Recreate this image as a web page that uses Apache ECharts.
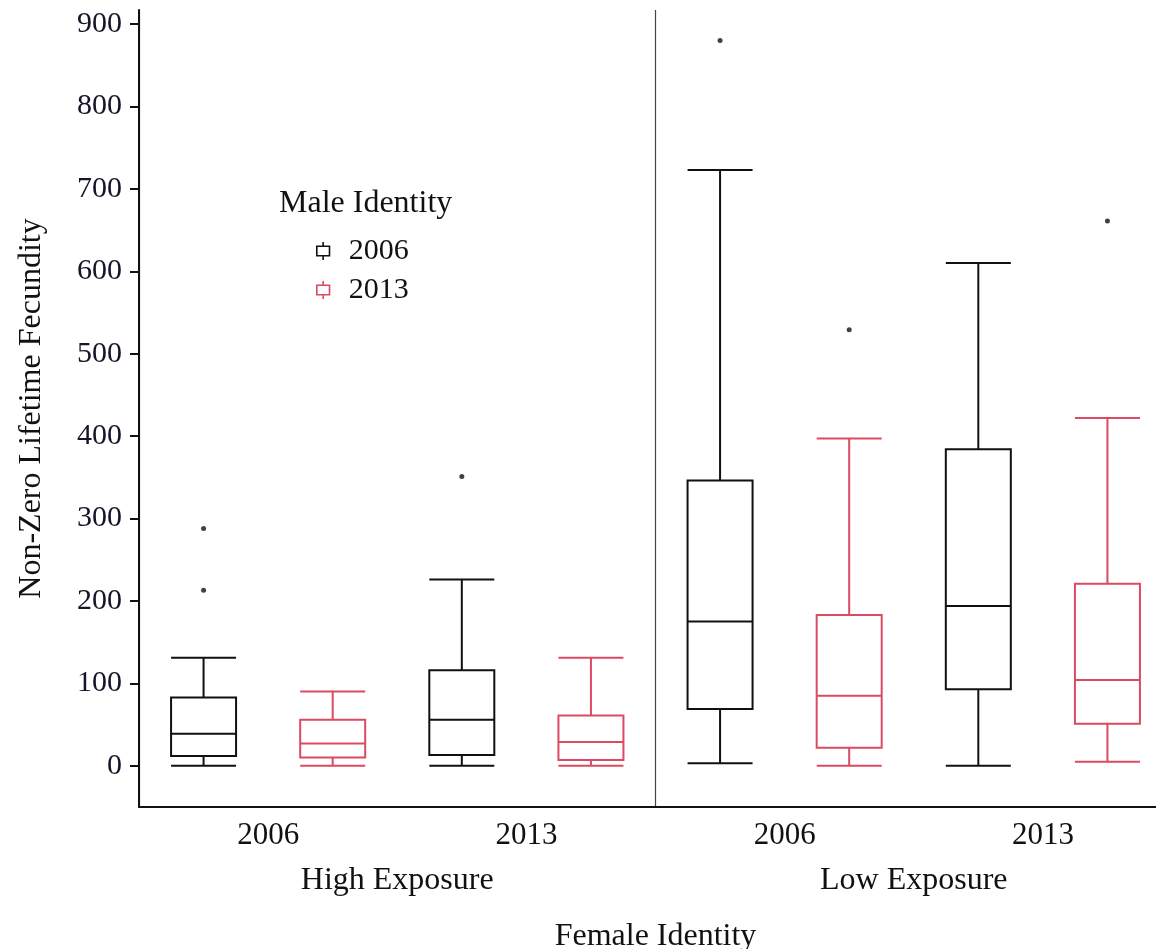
<!DOCTYPE html>
<html>
<head>
<meta charset="utf-8">
<title>Non-Zero Lifetime Fecundity</title>
<script src="https://cdn.jsdelivr.net/npm/echarts@6/dist/echarts.min.js"></script>
<style>
  html, body { margin: 0; padding: 0; background: #fff; }
  #chart { width: 1156px; height: 949px; }
</style>
</head>
<body>
<div id="chart"></div>
<script>
// Female identity groups (x axis) and male identity series (legend)
const exposures = ['High Exposure', 'Low Exposure'];
const femaleYears = ['2006', '2013', '2006', '2013'];
const maleYears = ['2006', '2013'];

// Box statistics per female group: [min, Q1, median, Q3, max]
const male2006Stats = [
  [0, 12, 39, 83, 131],
  [0, 13, 56, 116, 226],
  [3, 69, 175, 346, 723],
  [0, 93, 194, 384, 610]
];
const male2013Stats = [
  [0, 10, 27, 56, 90],
  [0, 7, 29, 61, 131],
  [0, 22, 85, 183, 397],
  [5, 51, 104, 221, 422]
];

// Outlying points per female group
const male2006Outliers = [[288, 213], [351], [880], []];
const male2013Outliers = [[], [], [529], [661]];

// Y axis ticks
const yMajorTicks = [0, 100, 200, 300, 400, 500, 600, 700, 800, 900];
const yMinorTicks = [50, 150, 250, 350, 450, 550, 650, 750, 850];

const BLACK = '#111111';
const RED = '#dc4a61';
const FONT = '"Liberation Serif", "Times New Roman", serif';

// One slot per (female group, male identity) pair
const slotNames = [];
femaleYears.forEach((fy, g) => {
  maleYears.forEach(my => slotNames.push(exposures[Math.floor(g / 2)] + ' ' + fy + ' / ' + my));
});

function boxRows(stats, maleIdx) {
  return stats.map((s, g) => [g * 2 + maleIdx].concat(s));
}
function outlierRows(outs, maleIdx) {
  const rows = [];
  outs.forEach((vals, g) => vals.forEach(v => rows.push([g * 2 + maleIdx, v])));
  return rows;
}

const chart = echarts.init(document.getElementById('chart'), null, { renderer: 'canvas' });

const hiddenCat = (data) => ({
  type: 'category', data: data, gridIndex: 0,
  axisLine: { show: false, onZero: false }, axisTick: { show: false }, axisLabel: { show: false },
  splitLine: { show: false }
});

chart.setOption({
  animation: false,
  backgroundColor: '#fff',
  textStyle: { fontFamily: FONT },
  title: {
    text: 'Male Identity',
    left: 274, top: 183,
    textStyle: { fontFamily: FONT, fontSize: 32, fontWeight: 'normal', color: '#111' }
  },
  legend: {
    orient: 'vertical',
    left: 311, top: 231,
    itemWidth: 13, itemHeight: 18, itemGap: 9,
    icon: 'path://M0,4 L12,4 L12,13 L0,13 Z M6,0 L6,4 M6,13 L6,17',
    itemStyle: { color: 'transparent', borderWidth: 1.6 },
    textStyle: { fontFamily: FONT, fontSize: 30, color: '#111', padding: [0, 0, 0, 14] },
    data: maleYears
  },
  grid: { left: 139, top: 10, width: 1033, bottom: 142, outerBoundsMode: 'none', containLabel: false },
  xAxis: [
    // slot axis carrying the boxes (male 2006) and outliers, with the bottom line
    {
      type: 'category', data: slotNames, gridIndex: 0,
      axisLine: { show: true, onZero: false, lineStyle: { color: BLACK, width: 2 } },
      axisTick: { show: false }, axisLabel: { show: false }, splitLine: { show: false }
    },
    // female year labels
    {
      type: 'category', data: femaleYears, gridIndex: 0, position: 'bottom',
      axisLine: { show: false, onZero: false }, axisTick: { show: false }, splitLine: { show: false },
      axisLabel: { show: true, margin: 13, fontFamily: FONT, fontSize: 31, color: '#111' }
    },
    // exposure labels, divider and overall axis title
    {
      type: 'category', data: exposures, gridIndex: 0, position: 'bottom',
      axisLine: { show: false, onZero: false }, axisTick: { show: false },
      axisLabel: { show: true, margin: 58, fontFamily: FONT, fontSize: 32, color: '#111' },
      splitLine: { show: true, lineStyle: { color: '#444', width: 1.2 } },
      name: 'Female Identity', nameLocation: 'middle', nameGap: 114,
      nameTextStyle: { fontFamily: FONT, fontSize: 32, color: '#111' }
    },
    // second slot axis so the male 2013 boxes stay centred in their own slots
    hiddenCat(slotNames)
  ],
  yAxis: [
    {
      type: 'value', min: -50, max: 917, gridIndex: 0,
      axisLine: { show: true, onZero: false, lineStyle: { color: BLACK, width: 2 } },
      axisTick: { show: true, inside: false, length: 9, customValues: yMajorTicks, lineStyle: { color: BLACK, width: 2 } },
      axisLabel: { show: true, customValues: yMajorTicks, margin: 17, fontFamily: FONT, fontSize: 30, color: '#15152a' },
      splitLine: { show: false },
      name: 'Non-Zero Lifetime Fecundity', nameLocation: 'middle', nameGap: 91, nameRotate: 90,
      nameTextStyle: { fontFamily: FONT, fontSize: 32, color: '#111', padding: [0, 0, 0, 0] }
    },
    {
      type: 'value', min: -50, max: 917, gridIndex: 0,
      axisLine: { show: false, onZero: false },
      axisTick: { show: true, length: 5, customValues: yMinorTicks, lineStyle: { color: BLACK, width: 2 } },
      axisLabel: { show: false, customValues: yMinorTicks },
      splitLine: { show: false }
    }
  ],
  series: [
    {
      name: '2006', type: 'boxplot', xAxisIndex: 0, yAxisIndex: 0,
      dimensions: ['slot', 'min', 'Q1', 'median', 'Q3', 'max'],
      encode: { x: 'slot', y: ['min', 'Q1', 'median', 'Q3', 'max'] },
      data: boxRows(male2006Stats, 0),
      boxWidth: [65, 65],
      itemStyle: { color: '#fff', borderColor: BLACK, borderWidth: 2 },
      emphasis: { disabled: true }
    },
    {
      name: '2013', type: 'boxplot', xAxisIndex: 3, yAxisIndex: 0,
      dimensions: ['slot', 'min', 'Q1', 'median', 'Q3', 'max'],
      encode: { x: 'slot', y: ['min', 'Q1', 'median', 'Q3', 'max'] },
      data: boxRows(male2013Stats, 1),
      boxWidth: [65, 65],
      itemStyle: { color: '#fff', borderColor: RED, borderWidth: 2 },
      emphasis: { disabled: true }
    },
    {
      name: 'outliers', type: 'scatter', xAxisIndex: 0, yAxisIndex: 0,
      data: outlierRows(male2006Outliers, 0).concat(outlierRows(male2013Outliers, 1)),
      symbol: 'circle', symbolSize: 5,
      itemStyle: { color: BLACK },
      emphasis: { disabled: true }
    }
  ]
});
</script>
</body>
</html>
